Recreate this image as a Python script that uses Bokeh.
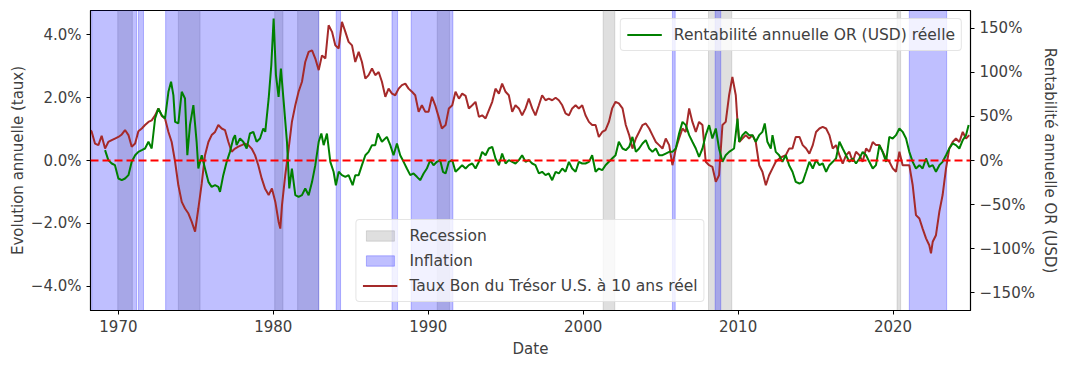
from bokeh.plotting import figure
from bokeh.models import (Range1d, LinearAxis, FixedTicker, CustomJSTickFormatter, Span,
                          Legend, LegendItem, ColumnDataSource)
from bokeh.embed import file_html
from bokeh.resources import INLINE

# ---------------- data ----------------
rate_years = [1968.21, 1968.28, 1968.49, 1968.71, 1968.92, 1969.14, 1969.35, 1969.57, 1969.78, 1970.00,
              1970.22, 1970.43, 1970.65, 1970.86, 1971.08, 1971.29, 1971.51, 1971.72, 1971.94, 1972.15,
              1972.37, 1972.58, 1972.80, 1973.01, 1973.23, 1973.44, 1973.66, 1973.87, 1974.09, 1974.30,
              1974.52, 1974.73, 1974.95, 1975.16, 1975.38, 1975.59, 1975.81, 1976.02, 1976.24, 1976.45,
              1976.67, 1976.88, 1977.10, 1977.31, 1977.53, 1977.74, 1977.96, 1978.17, 1978.39, 1978.60,
              1978.82, 1979.03, 1979.25, 1979.46, 1979.70, 1979.91, 1980.13, 1980.34, 1980.45, 1980.56,
              1980.77, 1980.99, 1981.20, 1981.42, 1981.63, 1981.85, 1982.06, 1982.28, 1982.50, 1982.71,
              1982.93, 1983.14, 1983.36, 1983.57, 1983.79, 1984.00, 1984.22, 1984.43, 1984.65, 1984.86,
              1985.08, 1985.29, 1985.51, 1985.72, 1985.94, 1986.15, 1986.37, 1986.58, 1986.80, 1987.01,
              1987.23, 1987.44, 1987.66, 1987.87, 1988.09, 1988.30, 1988.52, 1988.73, 1988.95, 1989.16,
              1989.38, 1989.59, 1989.81, 1990.02, 1990.24, 1990.45, 1990.67, 1990.88, 1991.12, 1991.33,
              1991.55, 1991.76, 1991.98, 1992.19, 1992.41, 1992.62, 1992.84, 1993.05, 1993.27, 1993.48,
              1993.70, 1993.91, 1994.13, 1994.34, 1994.56, 1994.77, 1994.99, 1995.20, 1995.42, 1995.63,
              1995.85, 1996.06, 1996.28, 1996.49, 1996.71, 1996.92, 1997.14, 1997.35, 1997.57, 1997.78,
              1998.00, 1998.22, 1998.43, 1998.65, 1998.86, 1999.08, 1999.29, 1999.51, 1999.72, 1999.94,
              2000.15, 2000.37, 2000.58, 2000.80, 2001.01, 2001.23, 2001.44, 2001.66, 2001.87, 2002.09,
              2002.30, 2002.54, 2002.75, 2002.97, 2003.18, 2003.40, 2003.61, 2003.83, 2004.04, 2004.26,
              2004.47, 2004.69, 2004.90, 2005.12, 2005.33, 2005.55, 2005.76, 2005.98, 2006.19, 2006.41,
              2006.62, 2006.84, 2007.05, 2007.27, 2007.48, 2007.70, 2007.91, 2008.13, 2008.34, 2008.56,
              2008.77, 2008.99, 2009.20, 2009.42, 2009.63, 2009.85, 2009.96, 2010.07, 2010.28, 2010.50,
              2010.71, 2010.93, 2011.14, 2011.36, 2011.57, 2011.79, 2012.00, 2012.22, 2012.43, 2012.65,
              2012.86, 2013.08, 2013.29, 2013.51, 2013.72, 2013.96, 2014.17, 2014.39, 2014.60, 2014.82,
              2015.03, 2015.25, 2015.46, 2015.68, 2015.89, 2016.11, 2016.32, 2016.54, 2016.75, 2016.97,
              2017.18, 2017.40, 2017.61, 2017.83, 2018.04, 2018.26, 2018.47, 2018.69, 2018.90, 2019.12,
              2019.33, 2019.55, 2019.76, 2019.98, 2020.19, 2020.41, 2020.62, 2020.84, 2021.05, 2021.27,
              2021.48, 2021.70, 2021.91, 2022.13, 2022.34, 2022.45, 2022.56, 2022.77, 2022.99, 2023.20,
              2023.42, 2023.63, 2023.85, 2024.06, 2024.28, 2024.50, 2024.71, 2024.92]
rate_values = [0.96, 0.91, 0.54, 0.49, 0.79, 0.38, 0.59, 0.65, 0.70, 0.75,
               0.83, 0.97, 0.81, 0.44, 0.54, 0.93, 1.02, 1.13, 1.23, 1.28,
               1.44, 1.66, 1.42, 1.34, 0.91, 0.59, -0.04, -0.79, -1.32, -1.53,
               -1.69, -1.95, -2.27, -1.53, -0.73, 0.17, 0.59, 0.81, 0.91, 1.13,
               1.02, 0.97, 0.59, 0.28, 0.38, 0.44, 0.49, 0.54, 0.49, 0.38,
               0.17, -0.15, -0.57, -0.89, -1.10, -0.89, -1.32, -1.95, -2.17, -1.42,
               -0.47, 0.38, 1.23, 1.76, 2.19, 2.51, 3.14, 3.46, 3.51, 3.25,
               2.88, 3.35, 3.25, 4.31, 4.10, 3.67, 3.57, 4.42, 4.10, 3.78,
               3.67, 3.14, 3.46, 3.14, 2.61, 2.72, 2.93, 2.72, 2.82, 2.51,
               2.03, 2.29, 2.13, 2.08, 2.29, 2.40, 2.45, 2.29, 2.19, 2.08,
               1.55, 1.76, 1.55, 1.55, 2.03, 1.76, 1.39, 1.02, 1.13, 1.66,
               1.76, 2.19, 1.97, 2.13, 2.06, 1.66, 1.76, 1.87, 1.39, 1.44,
               1.34, 1.60, 1.87, 2.29, 2.13, 2.45, 2.19, 2.08, 1.55, 1.76,
               1.66, 1.44, 1.66, 1.97, 1.66, 1.44, 1.76, 2.08, 1.92, 1.97,
               1.92, 2.00, 1.92, 1.76, 1.50, 1.44, 1.66, 1.76, 1.66, 1.76,
               1.44, 1.23, 1.13, 1.13, 0.75, 0.91, 0.97, 1.23, 1.66, 1.87,
               1.82, 1.66, 1.13, 0.81, 0.38, 0.70, 0.91, 1.13, 1.18, 1.02,
               0.81, 0.59, 0.49, 0.38, 0.70, 0.49, -0.15, 0.38, 0.70, 1.02,
               0.91, 1.66, 1.23, 0.91, 1.23, 1.13, -0.04, -0.15, -0.20, -0.68,
               -0.47, 1.13, 1.23, 2.08, 2.66, 2.08, 1.23, 0.59, 0.70, 0.81,
               0.70, 0.81, 0.59, -0.15, -0.36, -0.79, -0.47, -0.25, -0.04, 0.06,
               0.12, 0.17, 0.38, 0.38, 0.75, 0.75, 0.49, 0.38, 0.22, 0.49,
               0.91, 1.02, 1.07, 1.02, 0.81, 0.38, 0.49, 0.17, -0.10, 0.17,
               0.28, -0.04, 0.28, 0.17, -0.04, 0.38, 0.28, 0.59, 0.49, 0.49,
               0.28, 0.06, -0.04, -0.25, -0.36, 0.28, -0.15, -0.15, -0.15, -0.79,
               -1.74, -1.85, -2.17, -2.48, -2.70, -2.96, -2.59, -2.38, -1.63, -1.10,
               -0.25, 0.38, 0.59, 0.70, 0.59, 0.91, 0.70, 0.81]

gold_years = [1969.14, 1969.35, 1969.57, 1969.78, 1970.00, 1970.22, 1970.43, 1970.65, 1970.86, 1971.08,
              1971.29, 1971.51, 1971.72, 1971.94, 1972.15, 1972.37, 1972.58, 1972.80, 1973.01, 1973.23,
              1973.40, 1973.55, 1973.66, 1973.87, 1974.09, 1974.30, 1974.45, 1974.62, 1974.84, 1975.05,
              1975.16, 1975.38, 1975.59, 1975.81, 1976.02, 1976.24, 1976.45, 1976.56, 1976.77, 1976.99,
              1977.20, 1977.42, 1977.53, 1977.63, 1977.85, 1978.06, 1978.28, 1978.49, 1978.71, 1978.92,
              1979.14, 1979.35, 1979.48, 1979.70, 1979.87, 1980.02, 1980.17, 1980.34, 1980.49, 1980.67,
              1980.88, 1981.03, 1981.20, 1981.42, 1981.63, 1981.85, 1982.06, 1982.28, 1982.50, 1982.71,
              1982.93, 1983.10, 1983.25, 1983.46, 1983.68, 1983.89, 1984.04, 1984.22, 1984.43, 1984.65,
              1984.86, 1985.12, 1985.29, 1985.51, 1985.72, 1985.94, 1986.15, 1986.37, 1986.58, 1986.75,
              1987.01, 1987.33, 1987.55, 1987.76, 1987.98, 1988.19, 1988.41, 1988.62, 1988.84, 1989.05,
              1989.27, 1989.48, 1989.70, 1989.91, 1990.13, 1990.34, 1990.56, 1990.77, 1990.95, 1991.12,
              1991.33, 1991.55, 1991.76, 1991.98, 1992.19, 1992.41, 1992.62, 1992.84, 1993.05, 1993.27,
              1993.48, 1993.70, 1993.91, 1994.13, 1994.34, 1994.56, 1994.77, 1994.99, 1995.20, 1995.42,
              1995.63, 1995.85, 1996.06, 1996.28, 1996.49, 1996.71, 1996.92, 1997.14, 1997.35, 1997.57,
              1997.78, 1998.00, 1998.22, 1998.43, 1998.65, 1998.86, 1999.08, 1999.29, 1999.51, 1999.72,
              1999.94, 2000.15, 2000.37, 2000.58, 2000.80, 2001.01, 2001.23, 2001.44, 2001.66, 2001.87,
              2002.09, 2002.30, 2002.54, 2002.75, 2002.97, 2003.18, 2003.40, 2003.61, 2003.83, 2004.04,
              2004.26, 2004.47, 2004.69, 2004.90, 2005.12, 2005.33, 2005.55, 2005.76, 2005.98, 2006.19,
              2006.41, 2006.62, 2006.84, 2007.05, 2007.27, 2007.48, 2007.70, 2007.91, 2008.13, 2008.34,
              2008.56, 2008.77, 2008.99, 2009.20, 2009.42, 2009.74, 2009.96, 2010.07, 2010.28, 2010.50,
              2010.71, 2010.93, 2011.14, 2011.36, 2011.57, 2011.72, 2011.89, 2012.11, 2012.22, 2012.43,
              2012.65, 2012.86, 2013.08, 2013.29, 2013.51, 2013.72, 2013.96, 2014.17, 2014.39, 2014.60,
              2014.82, 2015.03, 2015.25, 2015.46, 2015.68, 2015.89, 2016.11, 2016.32, 2016.54, 2016.75,
              2016.97, 2017.18, 2017.40, 2017.61, 2017.83, 2018.04, 2018.26, 2018.47, 2018.69, 2018.90,
              2019.12, 2019.33, 2019.55, 2019.76, 2019.98, 2020.19, 2020.41, 2020.62, 2020.84, 2021.05,
              2021.27, 2021.48, 2021.70, 2021.91, 2022.13, 2022.34, 2022.56, 2022.77, 2022.99, 2023.20,
              2023.42, 2023.63, 2023.85, 2024.06, 2024.28, 2024.50, 2024.71, 2024.88]
gold_values = [11.7, 0.4, -3.4, -5.3, -20.4, -22.3, -20.4, -16.6, -1.5, 6.0,
               9.8, 11.7, 13.6, 21.2, 13.6, 47.6, 59.0, 51.4, 47.6, 77.9,
               89.2, 74.1, 43.8, 42.0, 77.9, 70.3, 6.0, 40.1, 62.7, 21.2,
               -9.1, 6.0, -9.1, -24.2, -29.9, -28.0, -29.9, -35.5, -16.6, -1.5,
               9.8, 24.9, 28.7, 17.4, 24.9, 21.2, 13.6, 30.6, 32.5, 21.2,
               24.9, 36.3, 32.5, 70.3, 108.1, 161.0, 96.8, 72.2, 104.3, 66.5,
               21.2, -31.7, -9.1, -39.3, -41.2, -39.3, -31.7, -39.3, -24.2, -5.3,
               21.2, 30.6, 17.4, 30.6, -1.5, -12.8, -28.0, -12.8, -16.6, -18.5,
               -16.6, -28.0, -16.6, -16.6, -5.3, 6.0, 9.8, 17.4, 17.4, 30.6,
               21.2, 26.8, 17.4, 6.0, 19.3, 6.0, -1.5, -9.1, -16.6, -14.7,
               -18.5, -22.3, -14.7, -9.1, 0.4, -5.3, -1.5, 0.4, -12.8, -14.7,
               -1.5, 0.4, -12.8, -9.1, -5.3, -9.1, -5.3, -3.4, -9.1, -1.5,
               9.8, 6.0, 13.6, 15.5, 2.3, -5.3, 7.9, -3.4, 0.4, -1.5,
               -3.4, 0.4, 6.0, -1.5, 0.4, -3.4, -5.3, -14.7, -12.8, -16.6,
               -14.7, -22.3, -12.8, -14.7, -9.1, -12.8, -1.5, -9.1, -12.8, -1.5,
               -3.4, -3.4, -1.5, 6.0, -12.8, -9.1, -11.0, -5.3, -1.5, 2.3,
               6.0, 21.2, 13.6, 11.7, 15.5, 26.8, 9.8, 13.6, 19.3, 23.1,
               13.6, 9.8, 13.6, 6.0, 6.0, 7.9, 9.8, 9.8, 13.6, 30.6,
               43.8, 40.1, 28.7, 21.2, 13.6, 4.2, 13.6, 28.7, 40.1, 24.9,
               36.3, 13.6, -1.5, 6.0, 9.8, 13.6, 47.6, 21.2, 28.7, 32.5,
               28.7, 28.7, 21.2, 28.7, 32.5, 42.0, 21.2, 13.6, 28.7, 9.8,
               6.0, -1.5, 6.0, -5.3, -12.8, -24.2, -26.1, -24.2, -12.8, -1.5,
               -9.1, 0.4, -5.3, -3.4, -12.8, -5.3, -1.5, 2.3, 21.2, 13.6,
               6.0, -1.5, 2.3, -3.4, 2.3, 9.8, 6.0, -1.5, -9.1, -5.3,
               17.4, 9.8, -1.5, 26.8, 24.9, 28.7, 36.3, 32.5, 24.9, 9.8,
               -1.5, -9.1, -5.3, -9.1, 2.3, -7.2, -5.3, -12.8, -5.3, -1.5,
               6.0, 13.6, 19.3, 17.4, 13.6, 23.1, 28.7, 40.1]

recession_start = [1969.96, 1973.87, 1980.09, 1981.57, 1990.58, 2001.29, 2008.09, 2020.26]
recession_end = [1970.90, 1975.27, 1980.62, 1982.93, 1991.37, 2002.04, 2009.59, 2020.49]

inflation_start = [1968.28, 1971.30, 1973.05, 1984.06, 1987.66, 1988.90, 2005.76, 2008.52, 2021.05]
inflation_end = [1971.18, 1971.62, 1982.93, 1984.34, 1988.02, 1991.59, 2005.94, 2008.88, 2023.46]

x_ticks = [1970, 1980, 1990, 2000, 2010, 2020]
left_ticks = [-4, -2, 0, 2, 4]
right_ticks = [-150, -100, -50, 0, 50, 100, 150]

legend_labels = ["Recession", "Inflation", "Taux Bon du Trésor U.S. à 10 ans réel",
                 "Rentabilité annuelle OR (USD) réelle"]

# ---------------- figure ----------------
FONT = "DejaVu Sans"
TXT = "#404040"
FS = "15px"
FS_LEG = "15.5px"

p = figure(width=1066, height=361, output_backend="svg", toolbar_location=None,
           x_range=Range1d(1968.2, 2025.0), y_range=Range1d(-4.78, 4.78),
           min_border_left=90, min_border_right=96, min_border_top=10, min_border_bottom=51)
p.extra_y_ranges = {"right": Range1d(-170, 170)}
p.xgrid.visible = False
p.ygrid.visible = False
p.outline_line_color = "black"
p.outline_line_width = 1.2
p.background_fill_color = "white"
p.border_fill_color = "white"

rec_src = ColumnDataSource(dict(left=recession_start, right=recession_end))
inf_src = ColumnDataSource(dict(left=inflation_start, right=inflation_end))
r_rec = p.quad(left="left", right="right", bottom=-20, top=20, source=rec_src,
               fill_color="gray", fill_alpha=0.25, line_color="gray", line_alpha=0.25, line_width=1)
r_inf = p.quad(left="left", right="right", bottom=-20, top=20, source=inf_src,
               fill_color="blue", fill_alpha=0.25, line_color="blue", line_alpha=0.25, line_width=1)

r_rate = p.line(rate_years, rate_values, line_color="brown", line_width=2)
r_gold = p.line(gold_years, gold_values, line_color="green", line_width=2, y_range_name="right")

p.add_layout(Span(location=0, dimension="width", line_color="red", line_width=2,
                  line_dash="8 4"))

# axes
p.xaxis.ticker = FixedTicker(ticks=x_ticks)
p.xaxis.formatter = CustomJSTickFormatter(code="return tick.toFixed(0);")
p.xaxis.axis_label = "Date"
p.yaxis.ticker = FixedTicker(ticks=left_ticks)
p.yaxis.formatter = CustomJSTickFormatter(
    code="return (tick < 0 ? '\u2212' : '') + Math.abs(tick).toFixed(1) + '%';")
p.yaxis.axis_label = "Evolution annuelle (taux)"

raxis = LinearAxis(y_range_name="right", ticker=FixedTicker(ticks=right_ticks),
                   formatter=CustomJSTickFormatter(
                       code="return (tick < 0 ? '\u2212' : '') + Math.abs(tick).toFixed(0) + '%';"),
                   axis_label="Rentabilité annuelle OR (USD)")
p.add_layout(raxis, "right")

for ax in [p.xaxis[0], p.yaxis[0], raxis]:
    ax.minor_tick_line_color = None
    ax.axis_line_color = "black"
    ax.major_tick_line_color = "black"
    ax.major_tick_in = 0
    ax.major_tick_out = 4
    ax.major_label_text_font = FONT
    ax.major_label_text_font_size = FS
    ax.major_label_text_color = TXT
    ax.axis_label_text_font = FONT
    ax.axis_label_text_font_size = FS
    ax.axis_label_text_color = TXT
    ax.axis_label_text_font_style = "normal"
    ax.major_label_standoff = 5
raxis.axis_label_standoff = 3
p.yaxis[0].axis_label_standoff = 1
p.xaxis[0].axis_label_standoff = 5

def style_legend(lg):
    lg.label_text_font = FONT
    lg.label_text_font_size = FS_LEG
    lg.label_text_color = TXT
    lg.background_fill_color = "white"
    lg.background_fill_alpha = 0.8
    lg.border_line_color = "#cccccc"
    lg.border_line_width = 1
    lg.glyph_width = 35
    lg.glyph_height = 13
    lg.label_height = 19
    lg.spacing = 6
    lg.padding = 6
    lg.margin = 8
    lg.label_standoff = 12
    if "border_radius" in lg.properties():
        lg.border_radius = 4

leg1 = Legend(items=[LegendItem(label=legend_labels[0], renderers=[r_rec]),
                     LegendItem(label=legend_labels[1], renderers=[r_inf]),
                     LegendItem(label=legend_labels[2], renderers=[r_rate])],
              location="bottom_center")
leg2 = Legend(items=[LegendItem(label=legend_labels[3], renderers=[r_gold])],
              location="top_right")
style_legend(leg1)
style_legend(leg2)
p.add_layout(leg1, "center")
p.add_layout(leg2, "center")

open("out.html", "w").write(file_html(p, INLINE))
